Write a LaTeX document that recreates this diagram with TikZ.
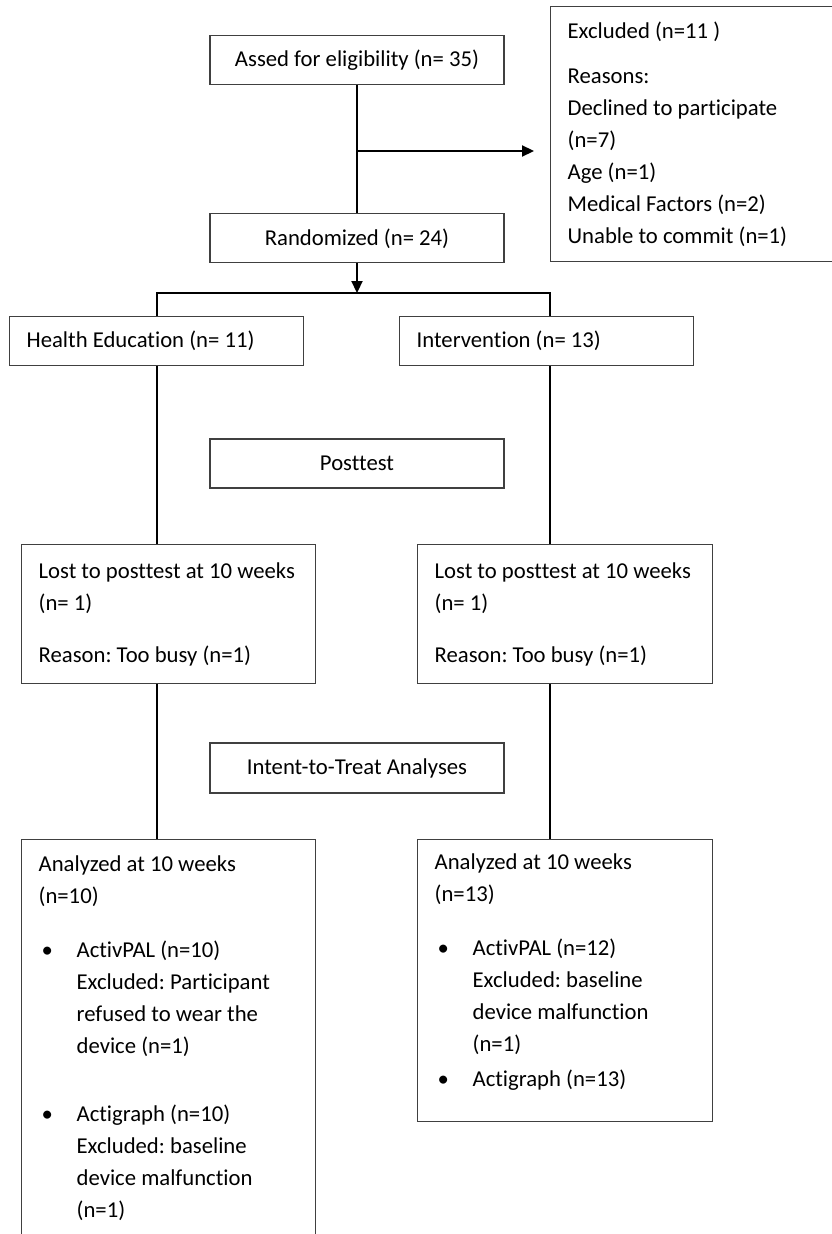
\documentclass[tikz,border=0pt]{standalone}
\usepackage{fontspec}
\setmainfont{Carlito}[Ligatures=CommonOff]
\usetikzlibrary{positioning,arrows.meta}

\begin{document}
\begin{tikzpicture}[x=1pt,y=-1pt]
\tikzset{box/.style={draw=black!75,line width=1.3pt,inner sep=0pt,font=\fontsize{22.7pt}{32pt}\selectfont},
   midbox/.style={box,minimum width=294pt,minimum height=49pt},
   txtbox/.style={box,align=left,anchor=north west,
      execute at begin node={\spaceskip=0pt\xspaceskip=0pt\frenchspacing\leftskip=17pt}},
   link/.style={line width=2.2pt},
   arr/.style={link,-{Triangle[length=12pt,width=11pt]}}};
   \useasboundingbox (0,0) rectangle (832,1234);

   \node[midbox] at (357,60) (assed) {Assed for eligibility (n= 35)};
   \node[midbox, below=128pt of assed] (rand) {Randomized (n= 24)};
   \node[txtbox, text width=284pt, minimum height=255pt] at (550,6) (excl)
      {Excluded (n=11 )\\[13pt] Reasons:\\ Declined to participate\\ (n=7)\\ Age (n=1)\\ Medical Factors (n=2)\\ Unable to commit (n=1)};

   \node[txtbox, text width=294pt, minimum height=49pt] at (9,316) (health) {Health Education (n= 11)};
   \node[txtbox, text width=294pt, minimum height=49pt] at (399,316) (interv) {Intervention (n= 13)};
   \node[midbox] at (357,463.5) (post) {Posttest};

   \node[txtbox, text width=294pt, minimum height=139pt] at (21,544) (lostL)
      {Lost to posttest at 10 weeks\\ (n= 1)\\[20pt] Reason: Too busy (n=1)};
   \node[txtbox, text width=295pt, minimum height=139pt] at (417,544) (lostR)
      {Lost to posttest at 10 weeks\\ (n= 1)\\[20pt] Reason: Too busy (n=1)};
   \node[midbox, minimum height=50pt] at (357,768) (itt) {Intent-to-Treat Analyses};

   \node[txtbox, text width=294pt, inner ysep=16pt] at (21,839) (anaL)
      {Analyzed at 10 weeks\\ (n=10)\\[22pt]
       \makebox[38pt][l]{\hspace{3pt}\textbullet}ActivPAL (n=10)\\ \hspace*{38pt}Excluded: Participant\\
       \hspace*{38pt}refused to wear the\\ \hspace*{38pt}device (n=1)\\[36pt]
       \makebox[38pt][l]{\hspace{3pt}\textbullet}Actigraph (n=10)\\ \hspace*{38pt}Excluded: baseline\\
       \hspace*{38pt}device malfunction\\ \hspace*{38pt}(n=1)\\[60pt] \mbox{}};
   \node[txtbox, text width=295pt, minimum height=282pt] at (417,839) (anaR)
      {Analyzed at 10 weeks\\ (n=13)\\[22pt]
       \makebox[38pt][l]{\hspace{3pt}\textbullet}ActivPAL (n=12)\\ \hspace*{38pt}Excluded: baseline\\
       \hspace*{38pt}device malfunction\\ \hspace*{38pt}(n=1)\\[3pt]
       \makebox[38pt][l]{\hspace{3pt}\textbullet}Actigraph (n=13)\\[-10pt] \mbox{}};

   \coordinate (br) at (357,151);
   \coordinate (sL) at (157,293);
   \coordinate (sM) at (357,293);
   \coordinate (sR) at (550,293);

   \draw[link] (assed) -- (rand);
   \draw[arr, shorten >=16pt] (br) -- (br -| excl.west);
   \draw[arr] (rand) -- (sM);
   \draw[link] (sL |- health.north) -- (sL) -- (sR) -- (sR |- interv.north);
   \draw[link] (health.south -| sL) -- (lostL.north -| sL);
   \draw[link] (interv.south -| sR) -- (lostR.north -| sR);
   \draw[link] (lostL.south -| sL) -- (anaL.north -| sL);
   \draw[link] (lostR.south -| sR) -- (anaR.north -| sR);

\end{tikzpicture}
\end{document}
